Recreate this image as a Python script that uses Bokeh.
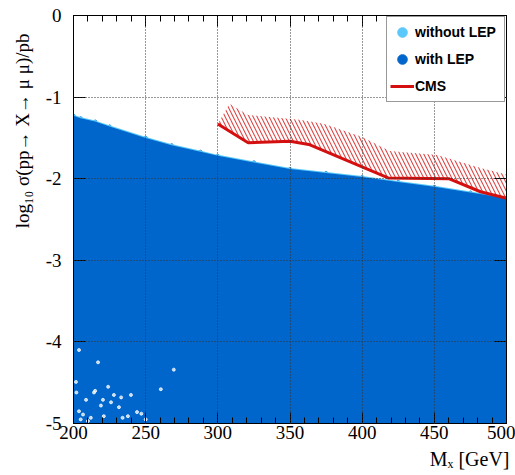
from bokeh.plotting import figure
from bokeh.models import LinearAxis, FixedTicker, Legend, LegendItem, Range1d, Title
from bokeh.embed import file_html
from bokeh.resources import INLINE

# ---- axis ticks ----
x_ticks = [200, 250, 300, 350, 400, 450, 500]
x_tick_labels = ["200", "250", "300", "350", "400", "450", "500"]
x_minor = [200, 210, 220, 230, 240, 250, 260, 270, 280, 290, 300, 310, 320, 330, 340, 350,
           360, 370, 380, 390, 400, 410, 420, 430, 440, 450, 460, 470, 480, 490, 500]
y_ticks = [-5, -4, -3, -2, -1, 0]
y_tick_labels = ["-5", "-4", "-3", "-2", "-1", "0"]
x_title = "Mₓ [GeV]"
y_title = "log₁₀ σ(pp→ X→ μ μ)/pb"

# ---- upper envelope of the scanned points (log10 sigma) ----
edge_x = [200, 205, 215, 225, 250, 268, 288, 300, 325, 350, 375, 400, 425, 450, 475, 500]
edge_y = [-1.23, -1.26, -1.30, -1.36, -1.50, -1.59, -1.67, -1.72, -1.80, -1.88, -1.93, -1.98,
          -2.04, -2.10, -2.17, -2.24]
floor_y = -5.2

# ---- empty spots (no points) in the low corner ----
gap_x = [203.8, 217, 201.7, 214.2, 220.4, 228, 203.8, 206.6, 221, 237.7, 234, 250, 208.7,
         260.5, 269.5, 212, 231.5, 239.8, 224, 244, 205, 210, 226, 233, 247, 215, 202, 219]
gap_y = [-4.10, -4.25, -4.49, -4.62, -4.71, -4.65, -4.85, -4.89, -4.91, -4.91, -4.93, -4.95,
         -4.71, -4.58, -4.34, -4.93, -4.80, -4.65, -4.55, -4.86, -4.95, -4.97, -4.74, -4.68,
         -4.88, -4.60, -4.62, -4.78]

# ---- CMS limit and hatched band ----
cms_x = [300, 321, 350, 363, 418, 460, 482, 500]
cms_y = [-1.33, -1.56, -1.54, -1.58, -1.99, -2.00, -2.16, -2.24]
band_x = [300, 308, 321, 358, 374, 400, 419, 452, 482, 500]
band_hi = [-1.33, -1.08, -1.22, -1.28, -1.33, -1.49, -1.66, -1.71, -1.87, -1.95]

DARK = "#0066cc"
LIGHT = "#5ac8fa"
RED = "#d40f0f"
SERIF = "Liberation Serif"

p = figure(width=515, height=475, x_range=Range1d(200, 500), y_range=Range1d(-5, 0),
           output_backend="svg", toolbar_location=None, title=None,
           min_border_left=72, min_border_right=9, min_border_top=15, min_border_bottom=52,
           background_fill_color="white", border_fill_color="white",
           outline_line_color="black", outline_line_width=1)

# scan points
r_with = p.scatter(edge_x, edge_y, size=3, color=DARK)
p.line(edge_x, edge_y, line_width=2, color=LIGHT)
r_without = p.scatter(edge_x, edge_y, size=2.5, color=LIGHT)
p.varea(x=edge_x, y1=floor_y, y2=edge_y, fill_color=DARK)
p.scatter(gap_x, gap_y, size=3, color="white", alpha=0.75)

# CMS band + line
p.patch(cms_x + band_x[::-1], cms_y + band_hi[::-1], fill_alpha=0, line_alpha=0,
        hatch_pattern="\\", hatch_color="#e04545", hatch_scale=8, hatch_weight=1.1)
r_cms = p.line(cms_x, cms_y, line_width=3, color=RED)

# axes
def style_axis(ax, ticks, minor, labels, major_len, minor_len, show_labels):
    ax.ticker = FixedTicker(ticks=ticks, minor_ticks=minor)
    ax.major_tick_in = major_len
    ax.major_tick_out = 0
    ax.minor_tick_in = minor_len
    ax.minor_tick_out = 0
    ax.axis_line_color = "black"
    ax.major_tick_line_color = "black"
    ax.minor_tick_line_color = "black"
    if show_labels:
        ax.major_label_overrides = {t: l for t, l in zip(ticks, labels)}
        ax.major_label_text_font = SERIF
        ax.major_label_text_font_size = "19px"
        ax.major_label_text_color = "black"
    else:
        ax.major_label_overrides = {t: "" for t in ticks}
        ax.major_label_text_font_size = "1px"
        ax.major_label_standoff = 0

xa = p.xaxis[0]
style_axis(xa, x_ticks, x_minor, x_tick_labels, 11, 6, True)
xa.major_label_standoff = 2
ya = p.yaxis[0]
style_axis(ya, y_ticks, [], y_tick_labels, 12, 0, True)
ya.major_label_standoff = 12

top = LinearAxis()
style_axis(top, x_ticks, x_minor, x_tick_labels, 11, 6, False)
p.add_layout(top, "above")
right = LinearAxis()
style_axis(right, y_ticks, [], y_tick_labels, 12, 0, False)
p.add_layout(right, "right")

# grid
for g, t in ((p.xgrid[0], x_ticks), (p.ygrid[0], y_ticks)):
    g.ticker = FixedTicker(ticks=t)
    g.grid_line_color = "#333333"
    g.grid_line_dash = "1 2"
    g.grid_line_width = 1
    g.level = "guide"

# axis titles (ROOT style: aligned to the far end)
p.add_layout(Title(text=y_title, align="right", offset=18, standoff=19,
                   text_font=SERIF, text_font_size="19px", text_font_style="normal",
                   text_color="black"), "left")
p.add_layout(Title(text=x_title, align="right", offset=-3, standoff=8,
                   text_font=SERIF, text_font_size="20px", text_font_style="normal",
                   text_color="black"), "below")

legend = Legend(items=[LegendItem(label="without LEP", renderers=[r_without]),
                       LegendItem(label="with LEP", renderers=[r_with]),
                       LegendItem(label="CMS", renderers=[r_cms])],
                location="top_right", margin=1, padding=3, spacing=3,
                glyph_height=24, glyph_width=24, label_standoff=1, label_width=86,
                label_text_font="Liberation Sans", label_text_font_style="bold",
                label_text_font_size="14px", label_text_color="black",
                border_line_color="#333333", border_line_width=1.5,
                background_fill_color="white", background_fill_alpha=1)
p.add_layout(legend)

open("out.html", "w").write(file_html(p, INLINE))
